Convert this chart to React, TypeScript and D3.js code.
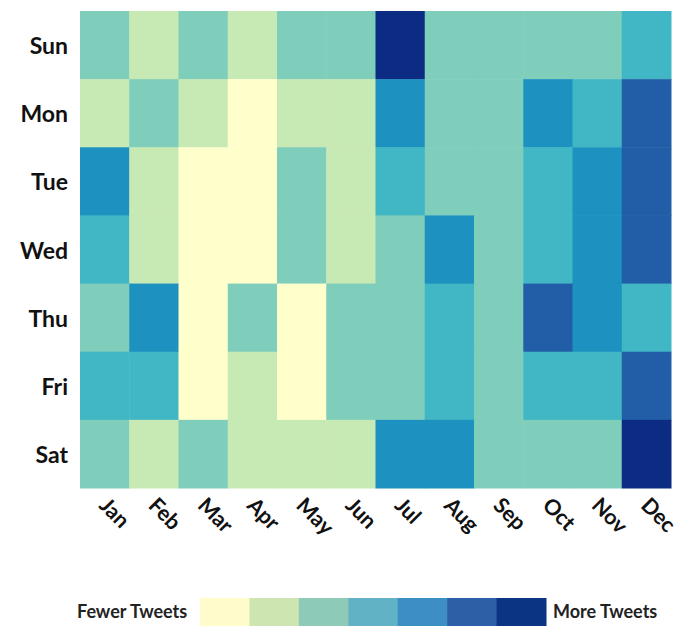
import React from "react";
import * as d3 from "d3";

const days = ["Sun", "Mon", "Tue", "Wed", "Thu", "Fri", "Sat"];
const months = ["Jan", "Feb", "Mar", "Apr", "May", "Jun", "Jul", "Aug", "Sep", "Oct", "Nov", "Dec"];

// tweet-volume level (0 = fewest, 6 = most), one row per day, Jan..Dec
const sun = [2, 1, 2, 1, 2, 2, 6, 2, 2, 2, 2, 3];
const mon = [1, 2, 1, 0, 1, 1, 4, 2, 2, 4, 3, 5];
const tue = [4, 1, 0, 0, 2, 1, 3, 2, 2, 3, 4, 5];
const wed = [3, 1, 0, 0, 2, 1, 2, 4, 2, 3, 4, 5];
const thu = [2, 4, 0, 2, 0, 2, 2, 3, 2, 5, 4, 3];
const fri = [3, 3, 0, 1, 0, 2, 2, 3, 2, 3, 3, 5];
const sat = [2, 1, 2, 1, 1, 1, 4, 4, 2, 2, 2, 6];

const levels = [0, 1, 2, 3, 4, 5, 6];
const cellColors = ["#ffffcc", "#c7e9b4", "#7fcdbb", "#41b6c4", "#1d91c0", "#225ea8", "#0c2c84"];
const legendColors = ["#fffbcb", "#cde5b0", "#8ecab8", "#60b2c4", "#3d8ec2", "#2b5fa6", "#0b3483"];

const rows = [sun, mon, tue, wed, thu, fri, sat];

export default function App() {
  const W = 685;
  const H = 626;
  const left = 80, right = 671, top = 11, bottom = 488;

  const x = d3.scaleBand<string>().domain(months).range([left, right]).padding(0);
  const y = d3.scaleBand<string>().domain(days).range([top, bottom]).padding(0);
  const color = d3.scaleOrdinal<number, string>().domain(levels).range(cellColors);
  const legendColor = d3.scaleOrdinal<number, string>().domain(levels).range(legendColors);
  const lx = d3.scaleBand<number>().domain(levels).range([200, 546]).padding(0);

  const font = "Lato, 'Open Sans', sans-serif";

  return (
    <svg width={W} height={H} style={{ position: "absolute", left: 0, top: 0, background: "#fff" }}>
      {rows.map((vals, r) =>
        vals.map((v, c) => (
          <rect
            key={`${r}-${c}`}
            x={x(months[c])}
            y={y(days[r])}
            width={x.bandwidth() + 0.5}
            height={y.bandwidth() + 0.5}
            fill={color(v)}
          />
        ))
      )}
      {days.map((d) => (
        <text
          key={d}
          x={68}
          y={(y(d) as number) + y.bandwidth() / 2}
          textAnchor="end"
          dominantBaseline="central"
          fontFamily={font}
          fontWeight={700}
          fontSize={23}
          fill="#111"
        >
          {d}
        </text>
      ))}
      {months.map((m) => {
        const cx = (x(m) as number) + x.bandwidth() / 2 - 1;
        const cy = 501;
        return (
          <text
            key={m}
            x={cx}
            y={cy}
            transform={`rotate(45, ${cx}, ${cy})`}
            textAnchor="start"
            dominantBaseline="central"
            fontFamily={font}
            fontWeight={700}
            fontSize={21.5}
            fill="#111"
          >
            {m}
          </text>
        );
      })}
      {levels.map((l) => (
        <rect key={l} x={lx(l)} y={598} width={lx.bandwidth() + 0.5} height={32} fill={legendColor(l)} />
      ))}
      <text x={77} y={611} dominantBaseline="central" fontFamily={font} fontWeight={700} fontSize={18} fill="#222">
        Fewer Tweets
      </text>
      <text x={553} y={611} dominantBaseline="central" fontFamily={font} fontWeight={700} fontSize={18} fill="#222">
        More Tweets
      </text>
    </svg>
  );
}
